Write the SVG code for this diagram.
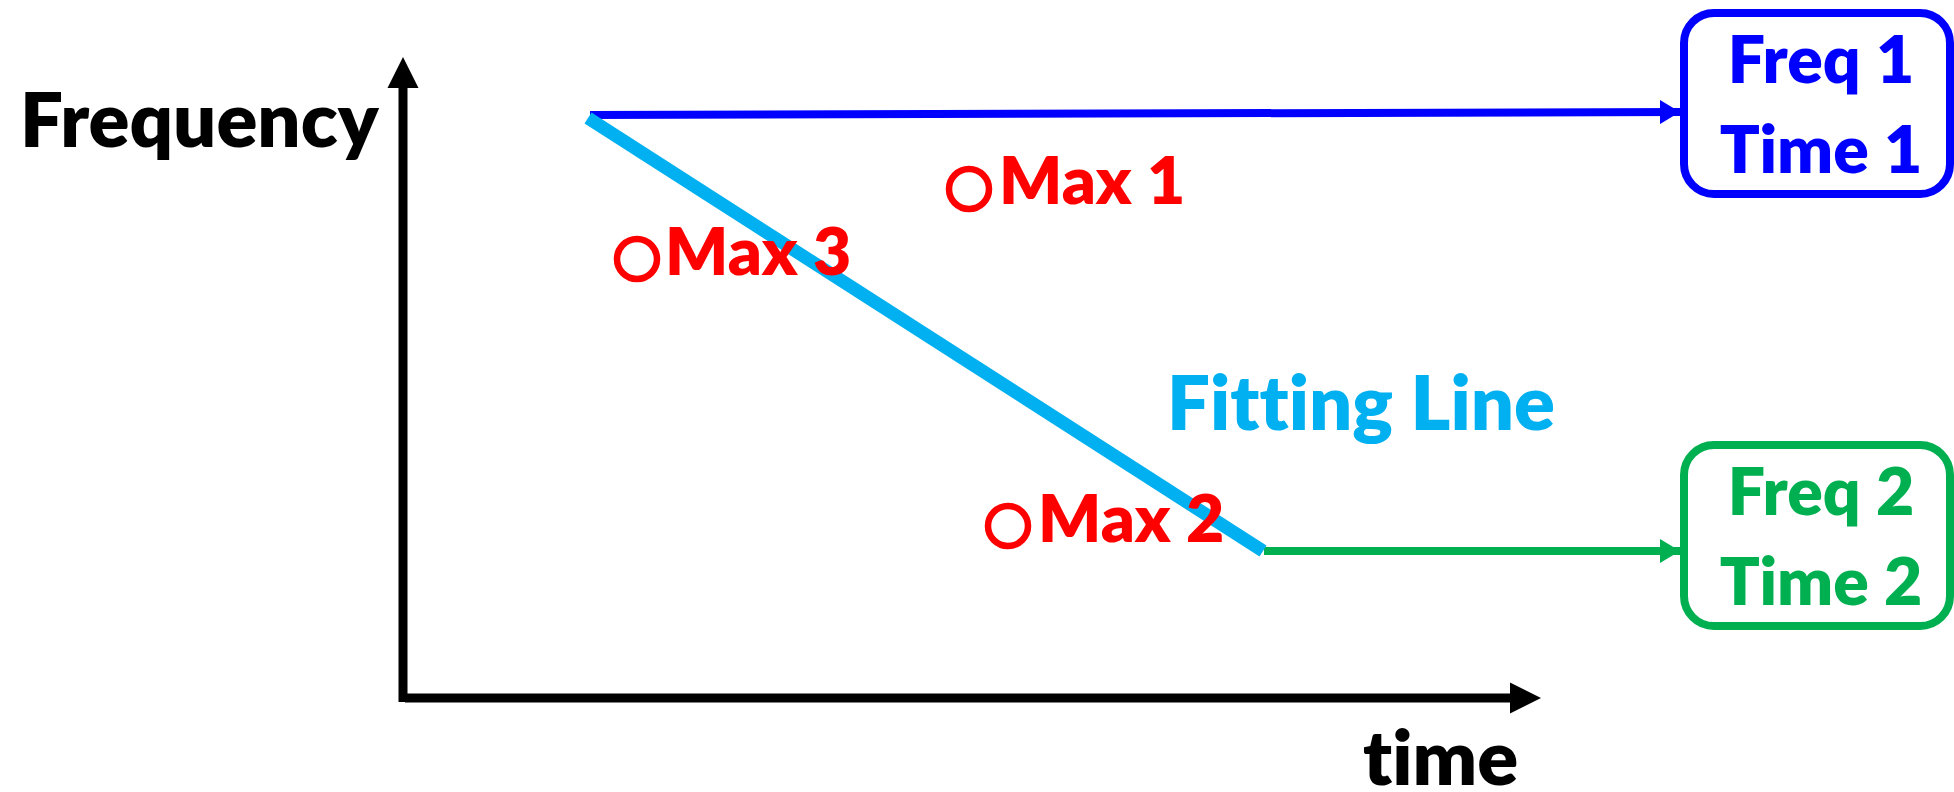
<svg xmlns="http://www.w3.org/2000/svg" width="1954" height="792" viewBox="0 0 1954 792">
<style>
text{font-family:Lato,"Open Sans","Liberation Sans",sans-serif;font-weight:800;font-variant-ligatures:none}
.ax{font-size:76px;fill:#000}
.mx{font-size:66px;fill:#FF0000}
.ring{fill:none;stroke:#FF0000;stroke-width:6.5}
.bx{fill:#fff;stroke-width:8}
.bt{font-size:66px;text-anchor:middle}
</style>
<defs>
<marker id="ab" markerUnits="userSpaceOnUse" markerWidth="20" markerHeight="24" refX="20" refY="12" orient="auto"><path d="M0,0L20,12L0,24Z" fill="#0000FF"/></marker>
<marker id="ag" markerUnits="userSpaceOnUse" markerWidth="20" markerHeight="24" refX="20" refY="12" orient="auto"><path d="M0,0L20,12L0,24Z" fill="#00B050"/></marker>
</defs>
<g id="axes">
<line x1="403" y1="702" x2="403" y2="86" stroke="#000" stroke-width="9"/>
<path d="M403,57L418.5,88L387.5,88Z" fill="#000"/>
<line x1="405" y1="698" x2="1512" y2="698" stroke="#000" stroke-width="9"/>
<path d="M1541,698L1510,682.5L1510,713.5Z" fill="#000"/>
<text class="ax" x="20" y="147">Frequency</text>
<text class="ax" x="1363" y="785">time</text>
</g>
<g id="connectors">
<line x1="590" y1="115" x2="1680" y2="112" stroke="#0000FF" stroke-width="8" marker-end="url(#ab)"/>
<line x1="1264" y1="551" x2="1680" y2="551" stroke="#00B050" stroke-width="8" marker-end="url(#ag)"/>
<line id="fitting-line" x1="588" y1="118" x2="1263" y2="551" stroke="#00B0F0" stroke-width="13"/>
</g>
<g id="fitting-label">
<text x="1167" y="430" style="font-size:76px;fill:#00B0F0">Fitting Line</text>
</g>
<g id="max1">
<circle class="ring" cx="969" cy="189" r="20"/>
<text class="mx" x="999" y="204">Max 1</text>
</g>
<g id="max3">
<circle class="ring" cx="637" cy="259" r="20"/>
<text class="mx" x="665" y="275">Max 3</text>
</g>
<g id="max2">
<circle class="ring" cx="1008" cy="526" r="20"/>
<text class="mx" x="1038" y="542">Max 2</text>
</g>
<g id="box1">
<rect class="bx" x="1684" y="13" width="266" height="181" rx="30" stroke="#0000FF"/>
<text class="bt" x="1821" y="83" fill="#0000FF">Freq 1</text>
<text class="bt" x="1821" y="173" fill="#0000FF">Time 1</text>
</g>
<g id="box2">
<rect class="bx" x="1684" y="445" width="266" height="181" rx="30" stroke="#00B050"/>
<text class="bt" x="1821" y="515" fill="#00B050">Freq 2</text>
<text class="bt" x="1821" y="605" fill="#00B050">Time 2</text>
</g>
</svg>
